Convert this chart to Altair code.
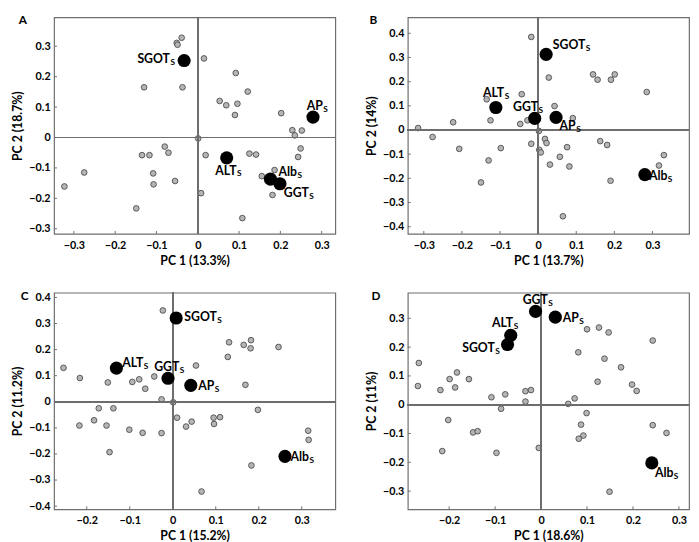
import altair as alt
import pandas as pd

FONT = "Lato"

# ---------------- data ----------------
VAR_NAMES = ["SGOT", "AP", "ALT", "Alb", "GGT"]

# Panel A
A_GRAY_PC1 = [-0.039, -0.051, -0.049, 0.015, 0.092, -0.130, -0.037, 0.121, 0.053, 0.069,
              0.096, 0.090, 0.202, 0.229, 0.252, 0.235, 0.001, 0.249, 0.243, -0.080,
              -0.071, -0.135, -0.117, 0.019, 0.125, 0.141, 0.186, 0.155, 0.181, -0.108,
              -0.107, -0.055, 0.008, 0.108, -0.149, -0.275, -0.323]
A_GRAY_PC2 = [0.328, 0.311, 0.305, 0.260, 0.212, 0.165, 0.165, 0.151, 0.120, 0.106,
              0.111, 0.074, 0.080, 0.024, 0.023, 0.007, -0.003, -0.036, -0.064, -0.030,
              -0.050, -0.058, -0.058, -0.058, -0.053, -0.056, -0.107, -0.127, -0.189, -0.118,
              -0.154, -0.143, -0.183, -0.265, -0.233, -0.115, -0.161]
A_VAR_PC1 = [-0.033, 0.279, 0.070, 0.176, 0.199]
A_VAR_PC2 = [0.253, 0.067, -0.067, -0.137, -0.152]

# Panel B
B_GRAY_PC1 = [-0.018, 0.028, 0.144, 0.156, 0.191, 0.201, 0.285, -0.043, -0.135, 0.043,
              0.091, -0.125, -0.223, -0.028, -0.047, -0.315, 0.002, -0.277, 0.018, 0.022,
              -0.018, 0.163, 0.181, -0.207, -0.098, 0.003, 0.007, 0.076, 0.057, -0.130,
              0.031, 0.082, 0.330, 0.317, 0.190, -0.150, 0.065]
B_GRAY_PC2 = [0.385, 0.217, 0.230, 0.208, 0.208, 0.230, 0.157, 0.148, 0.127, 0.099,
              0.049, 0.040, 0.032, 0.040, 0.025, 0.008, -0.004, -0.029, -0.037, -0.054,
              -0.057, -0.046, -0.062, -0.078, -0.075, -0.082, -0.093, -0.071, -0.111, -0.126,
              -0.143, -0.151, -0.104, -0.147, -0.210, -0.217, -0.357]
B_VAR_PC1 = [0.021, 0.047, -0.111, 0.280, -0.009]
B_VAR_PC2 = [0.313, 0.052, 0.093, -0.185, 0.048]

# Panel C
C_GRAY_PC1 = [-0.023, 0.131, 0.165, 0.182, 0.181, 0.128, 0.246, -0.254, 0.054, -0.216,
              -0.151, -0.094, -0.078, -0.043, -0.064, 0.169, -0.026, 0.001, -0.172, -0.138,
              0.198, -0.183, -0.217, -0.154, 0.010, 0.044, 0.031, 0.095, 0.110, 0.096,
              -0.101, -0.070, -0.026, 0.315, 0.316, -0.147, 0.183, 0.067]
C_GRAY_PC2 = [0.350, 0.228, 0.218, 0.236, 0.205, 0.172, 0.210, 0.130, 0.139, 0.091,
              0.074, 0.076, 0.086, 0.097, 0.050, 0.065, 0.009, -0.002, -0.025, -0.025,
              -0.031, -0.071, -0.091, -0.091, -0.061, -0.076, -0.095, -0.061, -0.059, -0.085,
              -0.107, -0.119, -0.120, -0.111, -0.146, -0.193, -0.244, -0.344]
C_VAR_PC1 = [0.008, 0.042, -0.131, 0.261, -0.011]
C_VAR_PC2 = [0.321, 0.063, 0.129, -0.209, 0.090]

# Panel D
D_GRAY_PC1 = [-0.266, -0.268, -0.219, -0.199, -0.183, -0.187, -0.157, -0.108, -0.078, -0.034,
              -0.022, -0.034, -0.087, -0.202, -0.148, -0.138, -0.215, -0.097, -0.005, 0.100,
              0.126, 0.147, 0.243, 0.081, 0.138, 0.174, 0.123, 0.198, 0.208, 0.073,
              0.059, 0.099, 0.087, 0.092, 0.082, 0.243, 0.273, 0.149]
D_GRAY_PC2 = [0.145, 0.065, 0.051, 0.089, 0.112, 0.060, 0.089, 0.026, 0.036, 0.047,
              0.051, 0.011, -0.014, -0.053, -0.096, -0.092, -0.161, -0.167, -0.150, 0.262,
              0.268, 0.251, 0.223, 0.182, 0.160, 0.130, 0.080, 0.070, 0.048, 0.022,
              0.003, -0.029, -0.069, -0.107, -0.118, -0.071, -0.098, -0.302]
D_VAR_PC1 = [-0.073, 0.031, -0.066, 0.241, -0.012]
D_VAR_PC2 = [0.209, 0.304, 0.241, -0.202, 0.324]

# axis tick values and titles
A_X_TICKS = [-0.3, -0.2, -0.1, 0, 0.1, 0.2, 0.3]
A_Y_TICKS = [-0.3, -0.2, -0.1, 0, 0.1, 0.2, 0.3]
B_X_TICKS = [-0.3, -0.2, -0.1, 0, 0.1, 0.2, 0.3]
B_Y_TICKS = [-0.4, -0.3, -0.2, -0.1, 0, 0.1, 0.2, 0.3, 0.4]
C_X_TICKS = [-0.2, -0.1, 0, 0.1, 0.2, 0.3]
C_Y_TICKS = [-0.4, -0.3, -0.2, -0.1, 0, 0.1, 0.2, 0.3, 0.4]
D_X_TICKS = [-0.2, -0.1, 0, 0.1, 0.2, 0.3]
D_Y_TICKS = [-0.3, -0.2, -0.1, 0, 0.1, 0.2, 0.3]

A_TITLES = ("PC 1 (13.3%)", "PC 2 (18.7%)")
B_TITLES = ("PC 1 (13.7%)", "PC 2 (14%)")
C_TITLES = ("PC 1 (15.2%)", "PC 2 (11.2%)")
D_TITLES = ("PC 1 (18.6%)", "PC 2 (11%)")

# ---------------- layout / style ----------------
DOMAINS = {
    "A": ([-0.348, 0.333], [-0.317, 0.395]),
    "B": ([-0.342, 0.396], [-0.430, 0.466]),
    "C": ([-0.276, 0.378], [-0.412, 0.418]),
    "D": ([-0.290, 0.322], [-0.363, 0.389]),
}
SIZES = {"A": (287, 221), "B": (287, 221), "C": (287, 221), "D": (287, 221)}
LETTER_POS = {"A": (-36, 3), "B": (-39, 3), "C": (-34, 3), "D": (-37, 3)}
# junction point (end of name / start of subscript) relative to the dot, px
LABEL_OFFSETS = {
    "A": {"SGOT": (-14.5, -1), "AP": (10, -11), "ALT": (10, 13), "Alb": (27, -7.5), "GGT": (29.5, 9.5)},
    "B": {"SGOT": (40, -9), "AP": (20, 8.5), "ALT": (8.5, -15), "Alb": (23, 1.5), "GGT": (3.5, -11.5)},
    "C": {"SGOT": (41.5, -0.5), "AP": (24, 0.5), "ALT": (27.5, -5.5), "Alb": (24.5, 1), "GGT": (11.5, -11.5)},
    "D": {"SGOT": (-13, 3.5), "AP": (24, 1), "ALT": (2.5, -12.5), "Alb": (22, 10), "GGT": (12.5, -12)},
}
FRAME = "#6e6e6e"


def panel(key, gx, gy, vx, vy, xticks, yticks, titles):
    w, h = SIZES[key]
    xdom, ydom = DOMAINS[key]
    xs = alt.Scale(domain=xdom, nice=False, zero=False)
    ys = alt.Scale(domain=ydom, nice=False, zero=False)
    xax = alt.Axis(values=xticks, tickCount=50, format=".1~f", title=titles[0], labelOverlap=False)
    yax = alt.Axis(values=yticks, tickCount=50, format=".1~f", title=titles[1], labelOverlap=False)

    gray_df = pd.DataFrame({"pc1": gx, "pc2": gy})
    var_df = pd.DataFrame({"pc1": vx, "pc2": vy, "lab": VAR_NAMES})

    def X():
        return alt.X("pc1:Q", scale=xs, axis=xax)

    def Y():
        return alt.Y("pc2:Q", scale=ys, axis=yax)

    gray = alt.Chart(gray_df).mark_circle(
        size=34, color="#b5b5b5", stroke="#3c3c3c", strokeWidth=0.8, opacity=1
    ).encode(x=X(), y=Y())

    zero_v = alt.Chart(gray_df).mark_rule(color=FRAME, strokeWidth=1.2).encode(x=alt.datum(0))
    zero_h = alt.Chart(gray_df).mark_rule(color=FRAME, strokeWidth=1.2).encode(y=alt.datum(0))

    xt = alt.Chart(pd.DataFrame({"pc1": xticks})).mark_rule(color=FRAME, strokeWidth=1).encode(
        x=X(), y=alt.value(h), y2=alt.value(h - 3))
    yt = alt.Chart(pd.DataFrame({"pc2": yticks})).mark_rule(color=FRAME, strokeWidth=1).encode(
        y=Y(), x=alt.value(0), x2=alt.value(3))

    black = alt.Chart(var_df).mark_circle(size=180, color="black", opacity=1).encode(
        x=X(), y=Y())

    layers = [gray, zero_v, zero_h, xt, yt, black]
    for name in VAR_NAMES:
        dx, dy = LABEL_OFFSETS[key][name]
        base = alt.Chart(var_df).transform_filter(alt.datum.lab == name)
        layers.append(base.mark_text(
            align="right", baseline="middle", dx=dx, dy=dy, font=FONT,
            fontWeight="bold", fontSize=12.5, color="black"
        ).encode(x=X(), y=Y(), text="lab:N"))
        layers.append(base.mark_text(
            align="left", baseline="middle", dx=dx + 0.5, dy=dy + 3, font=FONT,
            fontWeight="bold", fontSize=8.5, color="black", text="S"
        ).encode(x=X(), y=Y()))

    lx, ly = LETTER_POS[key]
    letter = alt.Chart(pd.DataFrame({"t": [key]})).mark_text(
        align="left", baseline="middle", font=FONT, fontWeight="bold", fontSize=12, color="black"
    ).encode(text="t:N", x=alt.value(lx), y=alt.value(ly))
    layers.append(letter)

    return alt.layer(*layers).properties(width=w, height=h)


pA = panel("A", A_GRAY_PC1, A_GRAY_PC2, A_VAR_PC1, A_VAR_PC2, A_X_TICKS, A_Y_TICKS, A_TITLES)
pB = panel("B", B_GRAY_PC1, B_GRAY_PC2, B_VAR_PC1, B_VAR_PC2, B_X_TICKS, B_Y_TICKS, B_TITLES)
pC = panel("C", C_GRAY_PC1, C_GRAY_PC2, C_VAR_PC1, C_VAR_PC2, C_X_TICKS, C_Y_TICKS, C_TITLES)
pD = panel("D", D_GRAY_PC1, D_GRAY_PC2, D_VAR_PC1, D_VAR_PC2, D_X_TICKS, D_Y_TICKS, D_TITLES)

chart = alt.vconcat(
    alt.hconcat(pA, pB, spacing=28),
    alt.hconcat(pC, pD, spacing=28),
    spacing=21,
).properties(
    padding={"left": 3, "top": 0, "right": 0, "bottom": 0}
).configure_view(
    stroke=FRAME, strokeWidth=1.2
).configure_axis(
    domain=False, grid=False, ticks=False, tickSize=0, labelOverlap=False,
    labelFont=FONT, labelFontWeight="bold", labelFontSize=11, labelColor="black",
    titleFont=FONT, titleFontWeight="bold", titleFontSize=12.5, titleColor="black",
).configure_axisBottom(
    labelPadding=6, titlePadding=4
).configure_axisLeft(
    labelPadding=4, titlePadding=4
)

chart.save("out.html", embed_options={"renderer": "svg", "actions": False})
